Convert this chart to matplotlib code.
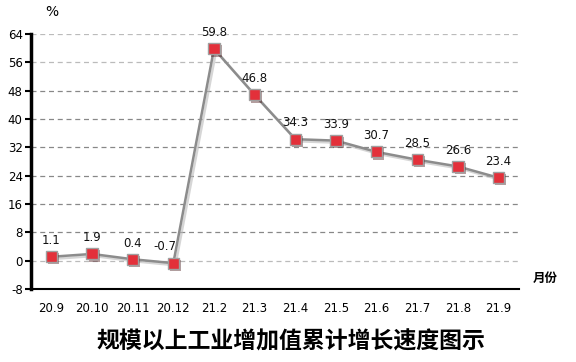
import matplotlib
matplotlib.use("Agg")
import matplotlib.pyplot as plt
import matplotlib.patheffects as pe

months = ["20.9", "20.10", "20.11", "20.12", "21.2", "21.3", "21.4", "21.5", "21.6", "21.7", "21.8", "21.9"]
values = [1.1, 1.9, 0.4, -0.7, 59.8, 46.8, 34.3, 33.9, 30.7, 28.5, 26.6, 23.4]
yticks = [-8, 0, 8, 16, 24, 32, 40, 48, 56, 64]

plt.rcParams['font.family'] = ['Noto Sans CJK SC', 'DejaVu Sans']

fig = plt.figure(figsize=(5.76, 3.62), dpi=100)
ax = fig.add_axes([31/576, 1-289/362, (519-31)/576, (289-34)/362])

x = list(range(len(months)))
ax.plot(x, values, color='#8c8c8c', lw=1.8, zorder=3,
        path_effects=[pe.SimpleLineShadow(offset=(1.5, -1.5), shadow_color='#bbbbbb', alpha=0.6), pe.Normal()])
ax.plot(x, values, ls='none', marker='s', ms=8.0, mfc='#e3303a', mec='#a0a0a0', mew=1.0, zorder=4,
        path_effects=[pe.SimplePatchShadow(offset=(1.5, -1.5), alpha=0.4), pe.Normal()])

for xi, v in zip(x, values):
    dx = -6 if v < 0 else 0
    ax.annotate(f"{v}", (xi, v), xytext=(dx, 7), textcoords='offset points',
                ha='center', va='bottom', fontsize=8.5, family='DejaVu Sans', color='#111111')

ax.set_xlim(-0.5, len(months) - 0.5)
ax.set_ylim(-8, 64)
ax.set_yticks(yticks)
ax.set_yticklabels([str(t) for t in yticks], fontsize=8.5, family='DejaVu Sans')
ax.set_xticks(x)
ax.set_xticklabels(months, fontsize=8.5, family='DejaVu Sans')
ax.tick_params(axis='x', length=0, pad=9)
ax.tick_params(axis='y', length=4, width=1.5, direction='out', pad=2)

for t in yticks[1:]:
    col = '#bbbbbb' if t in (0, 56, 64) else '#888888'
    ax.axhline(t, color=col, lw=0.9, ls=(0, (4, 3)), zorder=1)

for s in ['top', 'right']:
    ax.spines[s].set_visible(False)
ax.spines['left'].set_linewidth(2.5)
ax.spines['bottom'].set_linewidth(1.5)

fig.text(52/576, 1-12/362, "%", fontsize=10, family='DejaVu Sans', ha='center', va='center')
fig.text(545/576, 1-278/362, "月份", fontsize=9, fontweight='bold', ha='center', va='center')
fig.text(291/576, 1-342/362, "规模以上工业增加值累计增长速度图示", fontsize=16.5, fontweight='bold', ha='center', va='center')

fig.savefig("out.png", dpi=100)
